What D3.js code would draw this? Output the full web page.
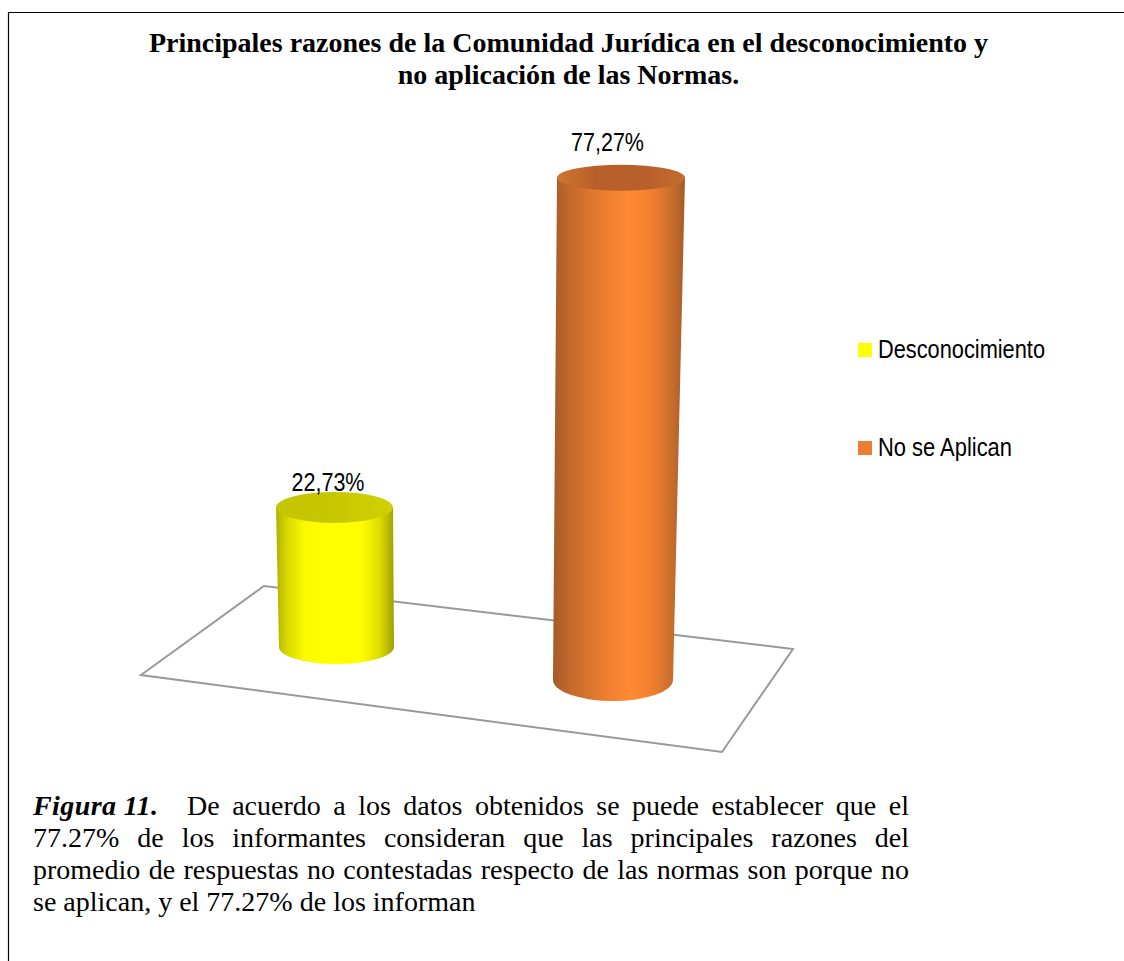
<!DOCTYPE html>
<html><head><meta charset="utf-8">
<script src="https://cdn.jsdelivr.net/npm/d3@7"></script>
<style>html,body{margin:0;padding:0;background:#fff;overflow:hidden}svg{display:block}</style>
</head><body><div id="c"></div>
<script>
const categories = ["Desconocimiento", "No se Aplican"];
const values = [22.73, 77.27];
const valueLabels = ["22,73%", "77,27%"];
const baseColors = ["#ffff00", "#ed7d31"];
const titleLines = ["Principales razones de la Comunidad Jurídica en el desconocimiento y", "no aplicación de las Normas."];
const captionLead = "Figura 11.";
const captionLines = [
  "De acuerdo a los datos obtenidos se puede establecer que el",
  "77.27% de los informantes consideran que las principales razones del",
  "promedio de respuestas no contestadas respecto de las normas son porque no",
  "se aplican, y el 77.27% de los informan"
];

const W = 1124, H = 961;
const svg = d3.select("#c").append("svg").attr("width", W).attr("height", H);
const defs = svg.append("defs");

svg.append("path").attr("d", d3.line()([[8.5,H],[8.5,12.5],[W,12.5]]))
  .attr("fill","none").attr("stroke","#000").attr("stroke-width",1.2);

svg.append("g").selectAll("text").data(titleLines).join("text")
  .attr("x",568.5).attr("y",(d,i)=>51.5+i*32.5)
  .attr("text-anchor","middle").attr("font-family","'Liberation Serif'")
  .attr("font-weight","bold").attr("font-size",28).attr("fill","#000").text(d=>d);

svg.append("polygon").attr("points",[[141,675],[264,586],[793,649],[722,752]].join(" "))
  .attr("fill","#fff").attr("stroke","#999").attr("stroke-width",2);

const perspective = d3.scaleOrdinal().domain(categories).range([0.945,1]);
const h = d3.scaleLinear().domain([0,100]).range([0,650]);
const baseY = d3.scaleOrdinal().domain(categories).range([647,680]);
const geom = {
  "Desconocimiento": {tl:276,tr:393,bl:279,br:394,ry:17,try:15.5,lx:328,ly:491},
  "No se Aplican":   {tl:557,tr:685,bl:553,br:673,ry:21,try:13,lx:607.5,ly:151}
};
const palettes = [
  {stops:[[0,"#b0b000"],[0.1,"#dada00"],[0.25,"#fbfb00"],[0.4,"#ffff00"],[0.72,"#ffff00"],[0.88,"#dcdc00"],[1,"#a0a000"]],
   top:[[0,"#c4c400"],[0.5,"#c8c800"],[1,"#d0d000"]]},
  {stops:[[0,"#a65b28"],[0.12,"#c0682c"],[0.35,"#e67b30"],[0.58,"#ff8a33"],[0.75,"#f0802f"],[0.9,"#c96d2c"],[1,"#a65b28"]],
   top:[[0,"#cf7530"],[0.3,"#b8602a"],[0.7,"#b8602a"],[1,"#c46c2c"]]}
];
const makeGrad = (id,stops)=>{
  const lg = defs.append("linearGradient").attr("id",id).attr("x1","0").attr("x2","1").attr("y1","0").attr("y2","0");
  stops.forEach(s=>lg.append("stop").attr("offset",s[0]).attr("stop-color",s[1]));
};

categories.forEach((cat,i)=>{
  const g = geom[cat], v = values[i], pal = palettes[i];
  const by = baseY(cat), ty = by - h(v)*perspective(cat);
  makeGrad("body"+i,pal.stops);
  makeGrad("top"+i,pal.top);
  const brx=(g.br-g.bl)/2, trx=(g.tr-g.tl)/2;
  svg.append("path").attr("fill",`url(#body${i})`)
    .attr("d",`M${g.tl},${ty}L${g.bl},${by}A${brx},${g.ry} 0 0 0 ${g.br},${by}L${g.tr},${ty}Z`);
  svg.append("ellipse").attr("cx",(g.tl+g.tr)/2).attr("cy",ty).attr("rx",trx).attr("ry",g.try)
    .attr("fill",`url(#top${i})`);
  svg.append("text").attr("x",g.lx).attr("y",g.ly)
    .attr("text-anchor","middle").attr("font-family","'Liberation Sans'").attr("font-size",26)
    .attr("textLength",73).attr("lengthAdjust","spacingAndGlyphs").attr("fill","#000").text(valueLabels[i]);
});

const leg = svg.append("g").selectAll("g").data(categories).join("g")
  .attr("transform",(d,i)=>`translate(858,${343+i*98})`);
leg.append("rect").attr("width",14).attr("height",14).attr("fill",(d,i)=>baseColors[i]);
leg.append("text").attr("x",20).attr("y",15).attr("font-family","'Liberation Sans'").attr("font-size",25)
  .attr("lengthAdjust","spacingAndGlyphs").attr("textLength",(d,i)=>i?134:167).attr("fill","#000").text(d=>d);

const cap = svg.append("g").attr("font-family","'Liberation Serif'").attr("font-size",28).attr("fill","#000");
cap.append("text").attr("x",33).attr("y",815).attr("font-weight","bold").attr("font-style","italic")
  .attr("textLength",125).attr("lengthAdjust","spacing").text(captionLead);
captionLines.forEach((l,i)=>{
  const t = cap.append("text").attr("x",i?33:187).attr("y",815+i*32).text(l);
  if(i<3){
    const target = i?876:722, natural = t.node().getComputedTextLength();
    t.attr("word-spacing",(target-natural)/(l.split(" ").length-1));
  }
});
</script></body></html>
